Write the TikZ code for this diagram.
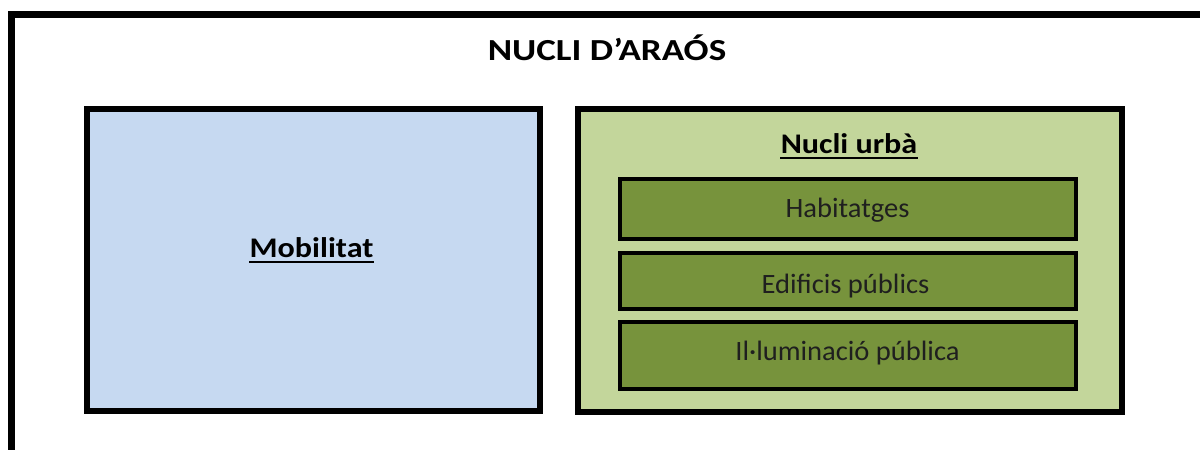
\documentclass[tikz,border=0pt]{standalone}
\usepackage{fontspec}
\setmainfont{Carlito}
\newfontfamily\titlefont{Carlito}[FakeStretch=1.21]
\newfontfamily\headfont{Carlito}[FakeStretch=1.13]
\newfontfamily\itemfont{Carlito}[FakeStretch=1.02]
\definecolor{lblue}{HTML}{C6D9F1}
\definecolor{lgreen}{HTML}{C3D69B}
\definecolor{dgreen}{HTML}{77933C}
\begin{document}
\begin{tikzpicture}[x=0.5pt,y=-0.5pt,
  bigbox/.style={draw=black, line width=3pt, inner sep=0pt},
  itembox/.style={draw=black, line width=2pt, fill=dgreen, inner sep=0pt, minimum width=228pt},
  itemtext/.style={font=\itemfont\fontsize{14}{16}\selectfont, text=black!88, inner sep=0pt, anchor=base},
  head/.style={font=\headfont\bfseries\fontsize{14.2}{16}\selectfont, inner sep=0pt, anchor=base},
  uline/.style={line width=1pt}]
\useasboundingbox (0,0) rectangle (1200,450);
\clip (0,0) rectangle (1200,450);
\fill[white] (0,0) rectangle (1200,450);
\draw[line width=3.5pt] (11.5,480) -- (11.5,14.5) -- (1230,14.5);
\node[font=\titlefont\bfseries\fontsize{15.3}{18}\selectfont, inner sep=0pt, anchor=base] (title) at (607,60.7) {NUCLI D’ARAÓS};
\node[bigbox, fill=lblue, minimum width=226.75pt, minimum height=151pt] (mob) at (313.25,260) {};
\node[head] (mobt) at (311.5,257.7) {Mobilitat};
\draw[uline] ([yshift=-2.3pt]mobt.base west) -- ([yshift=-2.3pt]mobt.base east);
\node[bigbox, fill=lgreen, minimum width=272pt, minimum height=151.75pt] (nucli) at (850,260.25) {};
\node[head] (nuclit) at (849,153.3) {Nucli urbà};
\draw[uline] ([yshift=-2.1pt]nuclit.base west) -- ([yshift=-2.1pt]nuclit.base east);
\node[itembox, minimum height=30.25pt] (hab) at (848,208.75) {};
\node[itembox, minimum height=28pt] (edif) at (848,281) {};
\node[itembox, minimum height=33.5pt] (illum) at (848,355.5) {};
\node[itemtext] (habt) at (847.5,217.3) {Habitatges};
\node[itemtext] (edift) at (845.5,293.3) {Edificis públics};
\node[itemtext] (illumt) at (847.5,360) {Il·luminació pública};
\end{tikzpicture}
\end{document}
